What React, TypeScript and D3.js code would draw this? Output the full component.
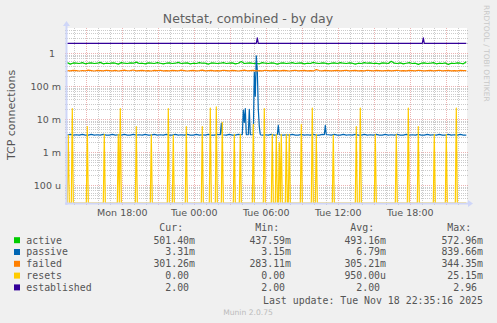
import React from 'react';
import * as d3 from 'd3';

// ---------- data ----------
const T0 = new Date(2025, 10, 17, 13, 25, 0); // first 5-minute sample (Mon 13:25)
const STEP_MIN = 5;
const SAMPLE_COUNT = 400;

// sampled every 15 minutes (every 3rd sample)
const activeValues = [
  0.52, 0.47, 0.51, 0.50, 0.49, 0.52, 0.48, 0.50, 0.51, 0.49,
  0.50, 0.53, 0.48, 0.50, 0.49, 0.51, 0.50, 0.47, 0.52, 0.50,
  0.49, 0.51, 0.50, 0.54, 0.49, 0.50, 0.48, 0.51, 0.50, 0.49,
  0.52, 0.50, 0.48, 0.50, 0.51, 0.49, 0.50, 0.53, 0.49, 0.50,
  0.51, 0.48, 0.50, 0.49, 0.52, 0.50, 0.50, 0.47, 0.51, 0.50,
  0.49, 0.50, 0.52, 0.49, 0.50, 0.51, 0.48, 0.50, 0.56, 0.49,
  0.50, 0.51, 0.49, 0.50, 0.48, 0.52, 0.50, 0.49, 0.51, 0.50,
  0.47, 0.50, 0.51, 0.49, 0.50, 0.52, 0.49, 0.50, 0.51, 0.48,
  0.50, 0.49, 0.53, 0.50, 0.49, 0.51, 0.50, 0.48, 0.50, 0.51,
  0.49, 0.52, 0.50, 0.49, 0.51, 0.50, 0.47, 0.50, 0.49, 0.52,
  0.50, 0.51, 0.49, 0.50, 0.48, 0.51, 0.50, 0.49, 0.57, 0.50,
  0.49, 0.51, 0.48, 0.50, 0.52, 0.49, 0.50, 0.46, 0.50, 0.51,
  0.49, 0.50, 0.52, 0.48, 0.50, 0.49, 0.51, 0.46, 0.50, 0.49,
  0.51, 0.50, 0.48, 0.55,
];

const failedValues = [
  0.300, 0.292, 0.305, 0.300, 0.290, 0.301, 0.295, 0.308, 0.300, 0.291,
  0.303, 0.300, 0.293, 0.306, 0.300, 0.294, 0.302, 0.290, 0.300, 0.307,
  0.296, 0.300, 0.312, 0.293, 0.300, 0.304, 0.295, 0.300, 0.290, 0.303,
  0.300, 0.306, 0.294, 0.300, 0.292, 0.303, 0.300, 0.295, 0.308, 0.300,
  0.290, 0.300, 0.304, 0.294, 0.300, 0.310, 0.292, 0.300, 0.303, 0.295,
  0.300, 0.292, 0.306, 0.300, 0.294, 0.303, 0.300, 0.290, 0.300, 0.307,
  0.295, 0.300, 0.304, 0.292, 0.300, 0.294, 0.306, 0.300, 0.292, 0.303,
  0.300, 0.294, 0.304, 0.300, 0.290, 0.300, 0.306, 0.294, 0.300, 0.303,
  0.295, 0.300, 0.292, 0.320, 0.300, 0.294, 0.303, 0.300, 0.292, 0.300,
  0.304, 0.294, 0.300, 0.306, 0.292, 0.300, 0.303, 0.295, 0.300, 0.292,
  0.306, 0.300, 0.294, 0.303, 0.300, 0.292, 0.300, 0.304, 0.294, 0.300,
  0.306, 0.295, 0.300, 0.292, 0.303, 0.300, 0.294, 0.306, 0.300, 0.292,
  0.300, 0.304, 0.294, 0.300, 0.306, 0.292, 0.300, 0.303, 0.295, 0.300,
  0.292, 0.303, 0.300, 0.300,
];

const passiveBaseValues = [
  0.0033, 0.0035, 0.0033, 0.0034, 0.0033, 0.0035, 0.0033, 0.0033, 0.0035, 0.0033,
  0.0034, 0.0033, 0.0035, 0.0033, 0.0033, 0.0035, 0.0033, 0.0034, 0.0033, 0.0035,
  0.0033, 0.0033, 0.0035, 0.0033, 0.0034, 0.0033, 0.0035, 0.0033, 0.0033, 0.0035,
  0.0033, 0.0034, 0.0033, 0.0035, 0.0033, 0.0033, 0.0035, 0.0033, 0.0034, 0.0033,
  0.0035, 0.0033, 0.0033, 0.0035, 0.0033, 0.0034, 0.0033, 0.0035, 0.0033, 0.0033,
  0.0035, 0.0033, 0.0034, 0.0033, 0.0035, 0.0033, 0.0033, 0.0035, 0.0033, 0.0034,
  0.0033, 0.0035, 0.0033, 0.0033, 0.0035, 0.0033, 0.0034, 0.0033, 0.0035, 0.0033,
  0.0033, 0.0035, 0.0033, 0.0034, 0.0033, 0.0035, 0.0033, 0.0033, 0.0035, 0.0033,
  0.0034, 0.0033, 0.0035, 0.0033, 0.0033, 0.0035, 0.0033, 0.0034, 0.0033, 0.0035,
  0.0033, 0.0033, 0.0035, 0.0033, 0.0034, 0.0033, 0.0035, 0.0033, 0.0033, 0.0035,
  0.0033, 0.0034, 0.0033, 0.0035, 0.0033, 0.0033, 0.0035, 0.0033, 0.0034, 0.0033,
  0.0035, 0.0033, 0.0033, 0.0035, 0.0033, 0.0034, 0.0033, 0.0035, 0.0033, 0.0033,
  0.0035, 0.0033, 0.0034, 0.0033, 0.0035, 0.0033, 0.0033, 0.0035, 0.0033, 0.0034,
  0.0033, 0.0035, 0.0033, 0.0033,
];

// [sample index, value] – passive bursts (with neighbouring samples)
const passiveSpikes: [number, number][] = [
  [153, 0.0034], [154, 0.0075], [155, 0.0034],
  [175, 0.0034], [176, 0.019], [177, 0.008], [178, 0.021], [179, 0.0034],
  [181, 0.0034], [182, 0.020], [183, 0.0034],
  [186, 0.0034], [187, 0.27], [188, 0.05], [189, 0.84], [190, 0.30],
  [191, 0.02], [192, 0.006], [193, 0.0034],
  [210, 0.0034], [211, 0.0065], [212, 0.0034],
  [257, 0.0034], [258, 0.0065], [259, 0.0034],
];

// [sample index, value] – resets (zero elsewhere)
const resetsSpikes: [number, number][] = [
  [1, 0.0033], [5, 0.021], [20, 0.006], [37, 0.0035], [51, 0.0035], [53, 0.021],
  [69, 0.006], [84, 0.0034], [101, 0.021], [106, 0.0033], [119, 0.006],
  [135, 0.006], [143, 0.022], [149, 0.024], [155, 0.008], [167, 0.0035],
  [173, 0.0035], [186, 0.007], [197, 0.021], [205, 0.0035], [209, 0.0035],
  [212, 0.002], [214, 0.0035], [219, 0.0035], [222, 0.0035], [234, 0.007],
  [245, 0.022], [249, 0.0035], [266, 0.0033], [289, 0.006], [293, 0.022],
  [308, 0.0035], [329, 0.0035], [341, 0.022], [351, 0.006], [367, 0.0035],
  [379, 0.0035], [389, 0.022],
];

const establishedLevel = 2.0;
const establishedSpikes: [number, number][] = [[190, 2.96], [356, 2.96]];

const seriesNames = ['active', 'passive', 'failed', 'resets', 'established'];
const seriesColors = ['#00cc00', '#0066b3', '#ff8000', '#ffcc00', '#330099'];
const legendCur = ['501.40m', '3.31m', '301.26m', '0.00 ', '2.00 '];
const legendMin = ['437.59m', '3.15m', '283.11m', '0.00 ', '2.00 '];
const legendAvg = ['493.16m', '6.79m', '305.21m', '950.00u', '2.00 '];
const legendMax = ['572.96m', '839.66m', '344.35m', '25.15m', '2.96 '];

const yTickValues = [1e-4, 1e-3, 1e-2, 1e-1, 1];
const yTickLabels = ['100 u', '1 m', '10 m', '100 m', '1  '];
const xTickLabels = ['Mon 18:00', 'Tue 00:00', 'Tue 06:00', 'Tue 12:00', 'Tue 18:00'];
const xTickTimes = [
  new Date(2025, 10, 17, 18), new Date(2025, 10, 18, 0), new Date(2025, 10, 18, 6),
  new Date(2025, 10, 18, 12), new Date(2025, 10, 18, 18),
];

// ---------- layout ----------
const W = 497, H = 323;
const PL = 67, PR = 467, PT = 28, PB = 203;
const FONT = '"DejaVu Sans", sans-serif';
const MONO = '"DejaVu Sans Mono", monospace';
const TXT = '#555555';
const AXIS = '#CFD6F8';

const timeOf = (i: number) => new Date(T0.getTime() + i * STEP_MIN * 60000);

export default function App() {
  const x = d3.scaleTime()
    .domain([new Date(2025, 10, 17, 13, 23, 30), new Date(2025, 10, 18, 22, 43, 30)])
    .range([PL, PR]);
  const yMin = 2.9e-5, yMax = 5.84;
  const y = d3.scaleLog().domain([yMin, yMax]).range([PB, PT]);
  const clampV = (v: number) => Math.max(v, yMin);

  const line = d3.line<[number, number]>()
    .x(d => x(timeOf(d[0])))
    .y(d => y(clampV(d[1])));

  const sparse = (vals: number[]) => vals.map((v, k) => [k * 3, v] as [number, number]);
  const active = sparse(activeValues);
  const failed = sparse(failedValues);
  const spikeIdx = passiveSpikes.map(d => d[0]);
  const passive = sparse(passiveBaseValues)
    .filter(d => !spikeIdx.some(s => Math.abs(s - d[0]) <= 1))
    .concat(passiveSpikes)
    .sort((a, b) => a[0] - b[0]);
  const resetsMap = new Map(resetsSpikes);
  const resets = d3.range(SAMPLE_COUNT).map(i => [i, resetsMap.get(i) ?? 0] as [number, number]);
  const estMap = new Map(establishedSpikes);
  const established = d3.range(SAMPLE_COUNT).map(i => [i, estMap.get(i) ?? establishedLevel] as [number, number]);

  const seriesData = [active, passive, failed, resets, established];

  // grid
  const hours = d3.timeHour.range(x.domain()[0], x.domain()[1]);
  const minorY: number[] = [];
  for (let e = -5; e <= 0; e++) {
    for (let m = 2; m <= 9; m++) {
      const v = m * Math.pow(10, e);
      if (v > yMin && v < yMax) minorY.push(v);
    }
  }

  const cw = 5.96;
  const colEnds = [195, 291, 386, 483];
  const headers = ['Cur:', 'Min:', 'Avg:', 'Max:'];
  const cols = [legendCur, legendMin, legendAvg, legendMax];
  const rowBase = [243.5, 255.3, 267.1, 278.9, 290.7];

  return (
    <svg width={W} height={H} style={{ position: 'absolute', left: 0, top: 0, background: '#f0f0f0' }}>
      <rect x={0} y={0} width={W} height={H} fill="#f0f0f0" />
      <defs>
        <clipPath id="plotclip">
          <rect x={PL} y={PT} width={PR - PL} height={PB - PT} />
        </clipPath>
      </defs>
      <rect x={PL} y={PT} width={PR - PL} height={PB - PT} fill="#ffffff" />

      {/* minor grid */}
      <g stroke="#8c8c8c" strokeOpacity={0.45} strokeWidth={1} strokeDasharray="1,1" shapeRendering="crispEdges">
        {minorY.map((v, k) => (
          <line key={'my' + k} x1={PL - 2} x2={PR + 2} y1={Math.round(y(v)) + 0.5} y2={Math.round(y(v)) + 0.5} />
        ))}
        {hours.filter(h => h.getHours() % 3 !== 0).map((h, k) => (
          <line key={'mx' + k} x1={Math.round(x(h)) + 0.5} x2={Math.round(x(h)) + 0.5} y1={PT} y2={PB + 2} />
        ))}
      </g>
      {/* major grid */}
      <g stroke="#e08080" strokeOpacity={0.6} strokeWidth={1} strokeDasharray="1,1" shapeRendering="crispEdges">
        {yTickValues.map((v, k) => (
          <line key={'My' + k} x1={PL - 2} x2={PR + 2} y1={Math.round(y(v)) + 0.5} y2={Math.round(y(v)) + 0.5} />
        ))}
        {hours.filter(h => h.getHours() % 3 === 0).map((h, k) => (
          <line key={'Mx' + k} x1={Math.round(x(h)) + 0.5} x2={Math.round(x(h)) + 0.5} y1={PT} y2={PB + 2} />
        ))}
      </g>

      {/* series */}
      <g clipPath="url(#plotclip)" fill="none" strokeWidth={1.2} strokeLinejoin="round">
        {seriesData.map((d, k) => (
          <path key={seriesNames[k]} d={line(d) ?? ''} stroke={seriesColors[k]} />
        ))}
      </g>

      {/* axes */}
      <line x1={PL - 0.5} x2={PL - 0.5} y1={PB + 2} y2={PT - 3} stroke={AXIS} strokeWidth={2} />
      <path d={`M${PL - 4},${PT - 2} L${PL + 3},${PT - 2} L${PL - 0.5},${PT - 7} Z`} fill={AXIS} />
      <line x1={PL - 2} x2={PR + 2} y1={PB + 0.5} y2={PB + 0.5} stroke={AXIS} strokeWidth={2} />
      <path d={`M${PR + 1},${PB - 3} L${PR + 1},${PB + 4} L${PR + 6},${PB + 0.5} Z`} fill={AXIS} />

      {/* y tick labels */}
      {yTickValues.map((v, k) => (
        <text key={'yl' + k} x={61} y={y(v) + 3.5} textAnchor="end" fontFamily={FONT} fontSize={9.5}
          fill={TXT} style={{ whiteSpace: 'pre' }}>{yTickLabels[k]}</text>
      ))}
      {/* x tick labels */}
      {xTickTimes.map((t, k) => (
        <text key={'xl' + k} x={x(t)} y={216} textAnchor="middle" fontFamily={FONT} fontSize={9.5} fill={TXT}>
          {xTickLabels[k]}
        </text>
      ))}

      {/* title */}
      <text x={248} y={23} textAnchor="middle" fontFamily={FONT} fontSize={12.5} fill="#606060">
        Netstat, combined - by day
      </text>
      {/* y axis title */}
      <text transform="translate(15,115) rotate(-90)" textAnchor="middle" fontFamily={FONT} fontSize={11} fill={TXT}>
        TCP connections
      </text>
      {/* watermark */}
      <text transform="translate(484,5) rotate(90)" fontFamily={FONT} fontSize={7.5} fill="#c8c8c8">
        RRDTOOL / TOBI OETIKER
      </text>

      {/* legend */}
      {headers.map((h, c) => (
        <text key={'h' + c} x={colEnds[c] - 2 * cw} y={231.3} textAnchor="end" fontFamily={MONO} fontSize={9.9} fill={TXT}>
          {h}
        </text>
      ))}
      {seriesNames.map((n, r) => (
        <g key={'lg' + n}>
          <rect x={14} y={rowBase[r] - 6.3} width={6} height={6} fill={seriesColors[r]} />
          <text x={26.3} y={rowBase[r]} fontFamily={MONO} fontSize={9.9} fill={TXT}>{n}</text>
          {cols.map((col, c) => (
            <text key={c} x={colEnds[c]} y={rowBase[r]} textAnchor="end" fontFamily={MONO} fontSize={9.9}
              fill={TXT} style={{ whiteSpace: 'pre' }}>{col[r]}</text>
          ))}
        </g>
      ))}
      <text x={483} y={304} textAnchor="end" fontFamily={MONO} fontSize={9.9} fill={TXT}>
        Last update: Tue Nov 18 22:35:16 2025
      </text>
      <text x={248} y={315} textAnchor="middle" fontFamily={FONT} fontSize={7.6} fill="#bbbbbb">
        Munin 2.0.75
      </text>
    </svg>
  );
}
